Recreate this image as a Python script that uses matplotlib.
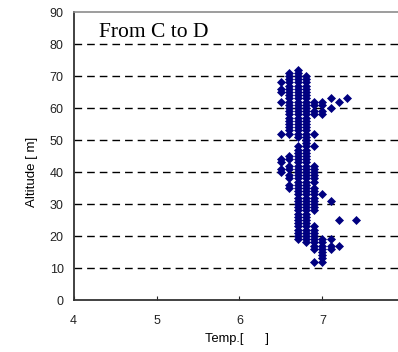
import matplotlib
matplotlib.use('Agg')
import matplotlib.pyplot as plt

plt.rcParams['font.family'] = ['Liberation Sans', 'DejaVu Sans']

# temperature columns [deg C] and the altitudes [m] measured at each of them
temps = [6.5, 6.6, 6.7, 6.8, 6.9, 7.0, 7.1, 7.2, 7.3, 7.4]
alt_65 = [68, 66, 65, 62, 52, 44, 43, 41, 40]
alt_66 = [71, 70, 69, 68, 67, 66, 65, 64, 63, 62, 61, 60, 59, 58, 57, 56, 55,
          54, 53, 52, 45, 44, 42, 41, 39, 38, 36, 35]
alt_67 = [72, 71, 70, 69, 68, 67, 66, 65, 64, 63, 62, 61, 60, 59, 58, 57, 56,
          55, 54, 53, 52, 51, 48, 47, 46, 45, 44, 43, 42, 41, 40, 39, 38, 37,
          36, 35, 34, 33, 32, 31, 30, 29, 28, 27, 26, 25, 24, 23, 22, 21, 20, 19]
alt_68 = [70, 69, 68, 67, 66, 65, 64, 63, 62, 61, 60, 59, 58, 57, 56, 55, 54,
          53, 52, 51, 50, 49, 48, 47, 46, 45, 44, 43, 42, 41, 40, 39, 38, 37,
          36, 35, 34, 33, 32, 31, 30, 29, 28, 27, 26, 25, 24, 23, 22, 21, 20,
          19, 18]
alt_69 = [62, 61, 59, 58, 52, 48, 42, 41, 40, 39, 38, 37, 35, 34, 33, 32, 31,
          30, 29, 28, 23, 22, 21, 20, 19, 18, 17, 16, 12]
alt_70 = [62, 61, 59, 58, 33, 19, 18, 17, 16, 15, 14, 13, 12]
alt_71 = [63, 60, 31, 19, 17, 16]
alt_72 = [62, 25, 17]
alt_73 = [63]
alt_74 = [25]
altitudes = [alt_65, alt_66, alt_67, alt_68, alt_69, alt_70, alt_71, alt_72,
             alt_73, alt_74]

x_ticks = [4, 5, 6, 7]
y_ticks = [0, 10, 20, 30, 40, 50, 60, 70, 80, 90]

fig = plt.figure(figsize=(3.98, 3.52), dpi=100)
ax = fig.add_axes([0.1847, 0.1477, 0.8153, 0.8182])

# dashed horizontal grid
for y in y_ticks[1:-1]:
    ax.axhline(y, color='black', lw=1.0, ls=(0, (5.5, 3.6)), zorder=1)

for t, alts in zip(temps, altitudes):
    ax.plot([t] * len(alts), alts, ls='none', marker='D', ms=4.5,
            color='#000080', mec='#000080', mew=0.5, zorder=3)

ax.set_xlim(4, 7.91)
ax.set_ylim(0, 90)
ax.set_xticks(x_ticks)
ax.set_yticks(y_ticks)
ax.tick_params(axis='x', direction='in', length=3, pad=11, labelsize=9,
               colors='#222222')
ax.tick_params(axis='y', length=0, pad=7, labelsize=9, colors='#222222')

ax.spines['right'].set_visible(False)
ax.spines['top'].set_color('#8c8c8c')
ax.spines['top'].set_linewidth(1.2)
for side in ['left', 'bottom']:
    ax.spines[side].set_color('#333333')
    ax.spines[side].set_linewidth(1.3)

fig.text(99 / 398, 1 - 37 / 352, 'From C to D', family='Liberation Serif',
         fontsize=15.5, va='baseline', ha='left')
fig.text(32 / 398, 1 - 172 / 352, 'Altitude [ m]', rotation=90, fontsize=9.5,
         ha='center', va='center')
fig.text(205 / 398, 1 - 339 / 352, 'Temp.[      ]', fontsize=9.3,
         ha='left', va='center')

fig.savefig('out.png', dpi=100)
